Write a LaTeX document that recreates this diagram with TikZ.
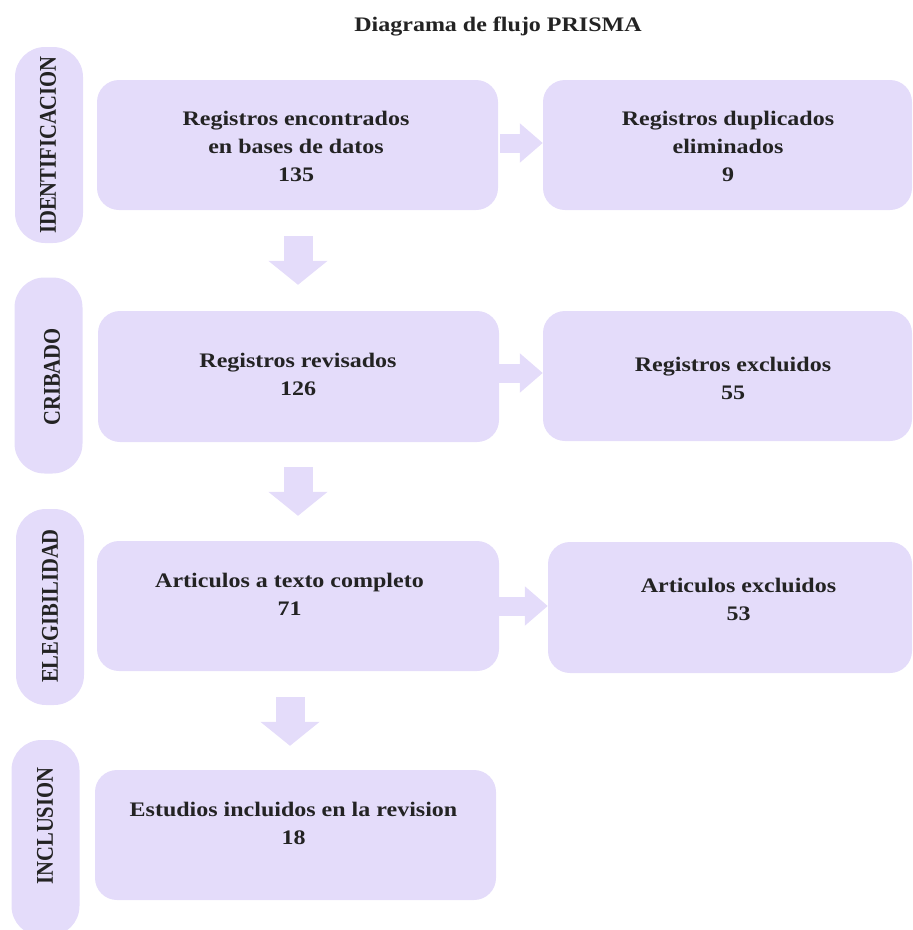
\documentclass[tikz,border=0pt]{standalone}
\usepackage{fontspec}
\setmainfont{Liberation Serif}
\usepackage{graphicx}
\usetikzlibrary{arrows.meta,calc}
\definecolor{lav}{RGB}{228,220,250}
\definecolor{txtc}{RGB}{35,35,35}
\newcommand{\sqz}[1]{\scalebox{1}[0.86]{#1}}
\begin{document}
\begin{tikzpicture}[x=1pt,y=-1pt,
  box/.style={fill=lav, draw=none, rounded corners=22pt, inner sep=0pt, minimum height=130pt},
  pill/.style={fill=lav, draw=none, rounded corners=30pt, inner sep=0pt, minimum width=68pt, minimum height=196pt},
  lbl/.style={text=txtc, font=\fontsize{24}{32.5}\selectfont\bfseries, inner sep=0pt},
  darr/.style={draw=lav, line width=29pt, -{Triangle[width=58pt,length=24pt]}},
  rarr/.style={draw=lav, line width=19pt, -{Triangle[width=38pt,length=23pt]}}]
\useasboundingbox (0,0) rectangle (913,930);
% title
\node[lbl] (title) at (498,27) {\sqz{Diagrama de flujo PRISMA}};
% side pills
\node[pill] (p1) at (49,145) {};
\node[pill] (p2) at (48.5,375.5) {};
\node[pill] (p3) at (50,607) {};
\node[pill] (p4) at (45.5,838) {};
\node[lbl] (s1) at (48,145) {\sqz{\rotatebox{90}{IDENTIFICACION}}};
\node[lbl] (s2) at (52,377) {\sqz{\rotatebox{90}{CRIBADO}}};
\node[lbl] (s3) at (50,606) {\sqz{\rotatebox{90}{ELEGIBILIDAD}}};
\node[lbl] (s4) at (45,826) {\sqz{\rotatebox{90}{INCLUSION}}};
% boxes
\node[box, minimum width=401pt] (b1) at (297.5,145) {};
\node[box, minimum width=369pt] (b2) at (727.5,145) {};
\node[box, minimum width=401pt, minimum height=131pt] (b3) at (298.5,376.5) {};
\node[box, minimum width=369pt] (b4) at (727.5,376) {};
\node[box, minimum width=402pt] (b5) at (298,606) {};
\node[box, minimum width=364pt, minimum height=131pt] (b6) at (730,607.5) {};
\node[box, minimum width=401pt] (b7) at (295.5,835) {};
% texts
\node[lbl] (t1) at (296,148) {\sqz{\begin{tabular}{@{}c@{}}Registros encontrados\\en bases de datos\\135\end{tabular}}};
\node[lbl] (t2) at (728,148) {\sqz{\begin{tabular}{@{}c@{}}Registros duplicados\\eliminados\\9\end{tabular}}};
\node[lbl] (t3) at (298,376) {\sqz{\begin{tabular}{@{}c@{}}Registros revisados\\126\end{tabular}}};
\node[lbl] (t4) at (733,379.5) {\sqz{\begin{tabular}{@{}c@{}}Registros excluidos\\55\end{tabular}}};
\node[lbl] (t5) at (289.5,595.5) {\sqz{\begin{tabular}{@{}c@{}}Articulos a texto completo\\71\end{tabular}}};
\node[lbl] (t6) at (738.5,600.5) {\sqz{\begin{tabular}{@{}c@{}}Articulos excluidos\\53\end{tabular}}};
\node[lbl] (t7) at (293.5,825) {\sqz{\begin{tabular}{@{}c@{}}Estudios incluidos en la revision\\18\end{tabular}}};
% down arrows
\draw[darr] ($(b1.south)+(0.5,26)$) -- ($(b3.north)+(-0.5,-26)$);
\draw[darr] ($(b3.south)+(-0.5,25)$) -- ($(b5.north)+(0,-25)$);
\draw[darr] ($(b5.south)+(-8,26)$) -- ($(b7.north)+(-5.5,-24)$);
% right arrows
\draw[rarr] ($(b1.east)+(2,-2)$) -- ($(b2.west)+(0,-2)$);
\draw[rarr] ($(b3.east)+(0,-3.5)$) -- ($(b4.west)+(0,-3)$);
\draw[rarr] ($(b5.east)+(0,0)$) -- ($(b6.west)+(0,-1.5)$);
\end{tikzpicture}
\end{document}
